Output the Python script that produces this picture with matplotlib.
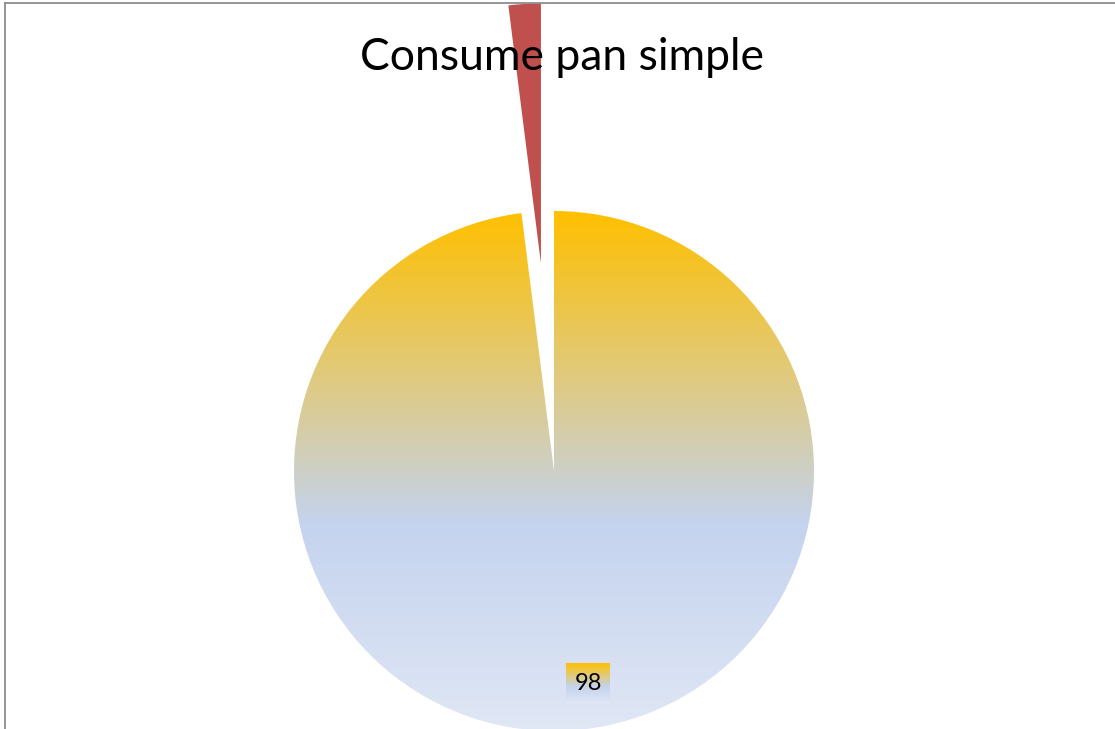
import numpy as np
import matplotlib.pyplot as plt
from matplotlib.colors import LinearSegmentedColormap

W, H = 1115, 729

values = [98, 2]
slice_labels = ['98', '2']
title = 'Consume pan simple'
red = '#C0504D'
grad_stops = [(0.0, '#FFC000'), (0.6, '#C4D3EE'), (1.0, '#E0E7F5')]

fig = plt.figure(figsize=(W / 100, H / 100), dpi=100)
# axes start at the grey chart border (left / top), data units = pixels
ax = fig.add_axes([5 / W, 0, 1 - 5 / W, 1 - 3 / H])

cx, cy, r = 554, H - 471, 260
wedges, _ = ax.pie(values, colors=['none', red], startangle=90, counterclock=False,
                   explode=[0, 208], center=(cx, cy), radius=r,
                   wedgeprops=dict(linewidth=0))
for w in wedges:
    w.set_clip_on(True)

cmap = LinearSegmentedColormap.from_list('fill', grad_stops)
grad = np.linspace(0, 1, 256).reshape(-1, 1)

# gradient fill of the big slice
im = ax.imshow(grad, cmap=cmap, extent=[cx - r, cx + r, cy - r, cy + r],
               aspect='auto', zorder=1, interpolation='bilinear')
im.set_clip_path(wedges[0])

# data label with the same gradient behind it
lx, ly = 588, H - 683
ax.imshow(grad, cmap=cmap, extent=[lx - 22, lx + 22, ly - 20, ly + 20],
          aspect='auto', zorder=3, interpolation='bilinear')
ax.text(lx, ly - 1, slice_labels[0], ha='center', va='center', fontsize=17,
        family='Lato', color='black', zorder=4)

ax.text(562, H - 58, title, ha='center', va='center', fontsize=32,
        family='Lato', color='black', zorder=5)

ax.set_xlim(5, W)
ax.set_ylim(0, H - 3)
ax.set_aspect('auto')
ax.set_frame_on(True)
ax.set_xticks([])
ax.set_yticks([])
for s in ['right', 'bottom']:
    ax.spines[s].set_visible(False)
for s in ['left', 'top']:
    ax.spines[s].set_color('#8C8C8C')
    ax.spines[s].set_linewidth(1.3)

fig.savefig('out.png', dpi=100, facecolor='white')
